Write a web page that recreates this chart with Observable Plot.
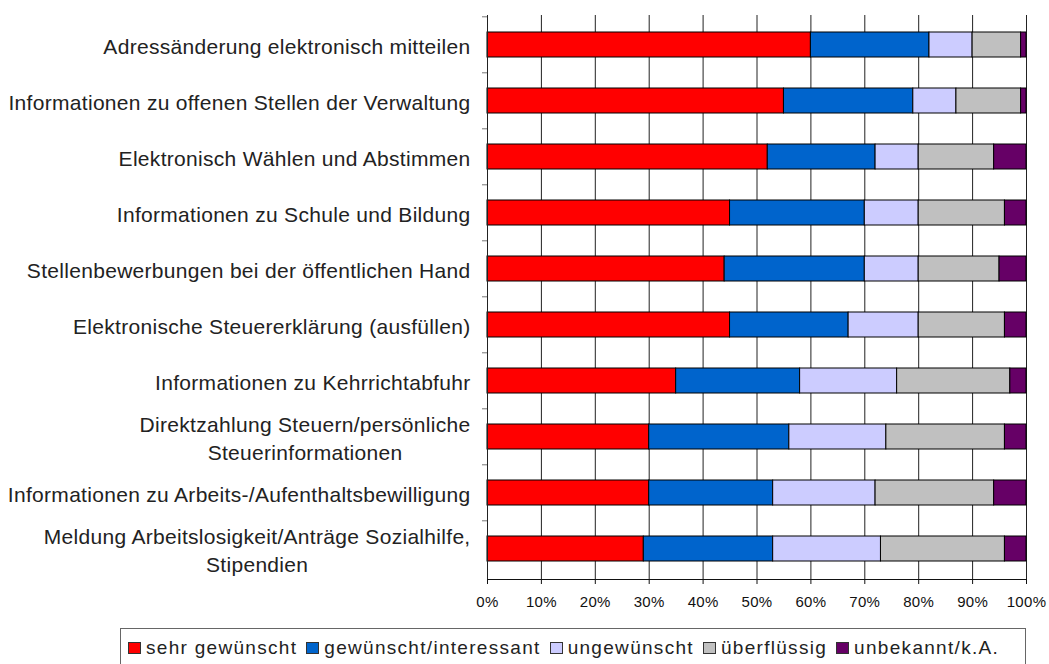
<!DOCTYPE html>
<html><head><meta charset="utf-8">
<script src="https://cdn.jsdelivr.net/npm/d3@7"></script>
<script src="https://cdn.jsdelivr.net/npm/@observablehq/plot@0.6"></script>
<style>
body{margin:0;background:#fff;font-family:"Liberation Sans",Arial,sans-serif;}
#wrap{position:relative;width:1049px;height:664px;overflow:hidden;background:#fff;}
#legend{position:absolute;left:120px;top:628px;width:906px;height:46px;border:1px solid #666;box-sizing:border-box;display:flex;align-items:center;padding:0 0 7px 7px;font-size:19px;letter-spacing:1.3px;color:#222;white-space:nowrap;}
.item{display:flex;align-items:center;margin-right:9px;}
.sw{width:13px;height:12px;border:1px solid #333;margin-right:5px;box-sizing:border-box;}
</style></head>
<body><div id="wrap"><div id="chart"></div><div id="legend"></div></div>
<script>
const categories = [
  "Adressänderung elektronisch mitteilen",
  "Informationen zu offenen Stellen der Verwaltung",
  "Elektronisch Wählen und Abstimmen",
  "Informationen zu Schule und Bildung",
  "Stellenbewerbungen bei der öffentlichen Hand",
  "Elektronische Steuererklärung (ausfüllen)",
  "Informationen zu Kehrrichtabfuhr",
  "Direktzahlung Steuern/persönliche\nSteuerinformationen",
  "Informationen zu Arbeits-/Aufenthaltsbewilligung",
  "Meldung Arbeitslosigkeit/Anträge Sozialhilfe,\nStipendien"
];
const seriesNames = ["sehr gewünscht", "gewünscht/interessant", "ungewünscht", "überflüssig", "unbekannt/k.A."];
const seriesColors = ["#ff0000", "#0064cc", "#ccccff", "#c0c0c0", "#660066"];
const sehrGewuenscht = [60, 55, 52, 45, 44, 45, 35, 30, 30, 29];
const gewuenscht     = [22, 24, 20, 25, 26, 22, 23, 26, 23, 24];
const ungewuenscht   = [ 8,  8,  8, 10, 10, 13, 18, 18, 19, 20];
const ueberfluessig  = [ 9, 12, 14, 16, 15, 16, 21, 22, 22, 23];
const unbekannt      = [ 1,  1,  6,  4,  5,  4,  3,  4,  6,  4];
const xTicks = [0, 10, 20, 30, 40, 50, 60, 70, 80, 90, 100];

const seriesValues = [sehrGewuenscht, gewuenscht, ungewuenscht, ueberfluessig, unbekannt];
const data = [];
seriesNames.forEach((s, si) => {
  categories.forEach((c, ci) => data.push({category: c, series: s, value: seriesValues[si][ci]}));
});

const W = 1049, H = 626, mT = 15, mB = 47, mL = 487, mR = 23;
const step = (H - mT - mB) / categories.length;

const chart = Plot.plot({
  width: W, height: H,
  marginTop: mT, marginBottom: mB, marginLeft: mL, marginRight: mR,
  style: {fontFamily: "'Liberation Sans', Arial, sans-serif", background: "#fff", color: "#111", letterSpacing: "0.3px"},
  x: {domain: [0, 100]},
  y: {domain: categories, paddingInner: 0.55, paddingOuter: 0.275},
  color: {domain: seriesNames, range: seriesColors},
  marks: [
    Plot.ruleX(xTicks.filter(d => d > 0), {stroke: "#222", strokeWidth: 1}),
    Plot.barX(data, {y: "category", x: "value", fill: "series", stroke: "#000", strokeWidth: 1}),
    Plot.frame({anchor: "left", stroke: "#222"}),
    Plot.frame({anchor: "bottom", stroke: "#111"}),
    Plot.axisX({ticks: xTicks, tickFormat: d => d + "%", tickSize: 5, tickPadding: 12, fontSize: 15, stroke: "#111", fill: "#111", label: null}),
    Plot.axisY({tickSize: 5, tickFormat: () => "", dy: -step / 2, stroke: "#777", label: null}),
    Plot.axisY({tickSize: 0, tickPadding: 17, fontSize: 21, fill: "#222", label: null, lineHeight: 1.35})
  ]
});
document.getElementById("chart").appendChild(chart);

// center the lines of multi-line category labels relative to each other (as in the original)
chart.querySelectorAll("text").forEach(t => {
  const spans = t.querySelectorAll("tspan");
  if (spans.length > 1) {
    let maxW = 0;
    spans.forEach(s => { maxW = Math.max(maxW, s.getComputedTextLength()); });
    t.setAttribute("text-anchor", "middle");
    spans.forEach(s => s.setAttribute("x", -(maxW / 2)));
  }
});

const legend = document.getElementById("legend");
seriesNames.forEach((s, i) => {
  const item = document.createElement("div");
  item.className = "item";
  const sw = document.createElement("div");
  sw.className = "sw";
  sw.style.background = seriesColors[i];
  const lab = document.createElement("span");
  lab.textContent = s;
  item.appendChild(sw); item.appendChild(lab);
  legend.appendChild(item);
});
</script>
</body></html>
